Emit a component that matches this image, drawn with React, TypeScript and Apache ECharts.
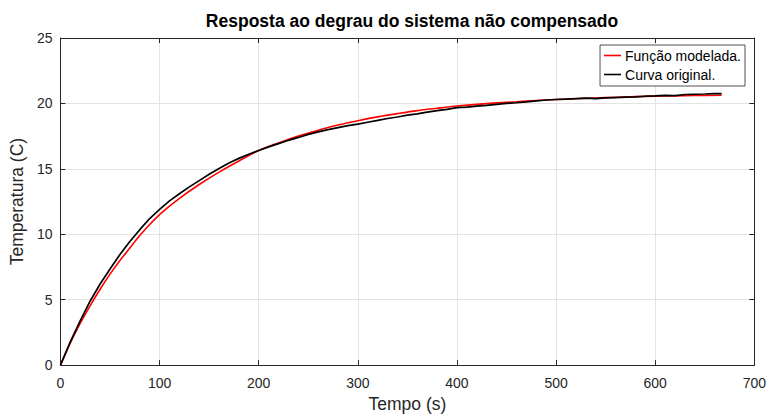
import React, { useEffect, useRef } from "react";
import * as echarts from "echarts";

const titleText = "Resposta ao degrau do sistema não compensado";
const xLabel = "Tempo (s)";
const yLabel = "Temperatura (C)";
const seriesNames = ["Função modelada.", "Curva original."];

const redTime = [0, 10, 20, 30, 40, 50, 60, 70, 80, 90, 100, 110, 120, 140, 160, 180, 200, 220, 240, 260, 280, 300, 320, 340, 360, 380, 400, 420, 440, 460, 480, 500, 520, 540, 560, 580, 600, 620, 640, 667];
const redValues = [0, 1.7, 3.2, 4.55, 5.8, 6.95, 8.0, 8.95, 9.9, 10.75, 11.5, 12.15, 12.75, 13.8, 14.75, 15.6, 16.4, 16.98, 17.5, 17.95, 18.35, 18.68, 18.97, 19.22, 19.45, 19.63, 19.8, 19.93, 20.04, 20.13, 20.22, 20.3, 20.36, 20.42, 20.47, 20.52, 20.56, 20.58, 20.6, 20.62];

const blackTime = [0, 10, 20, 30, 40, 50, 60, 70, 80, 90, 100, 110, 120, 130, 140, 150, 160, 170, 180, 190, 200, 210, 220, 230, 240, 250, 260, 270, 280, 290, 300, 310, 320, 330, 340, 350, 360, 370, 380, 390, 400, 410, 420, 430, 440, 450, 460, 470, 480, 490, 500, 510, 520, 530, 540, 550, 560, 570, 580, 590, 600, 610, 620, 630, 640, 650, 660, 667];
const blackValues = [0, 1.8, 3.4, 4.9, 6.2, 7.35, 8.45, 9.45, 10.35, 11.2, 11.9, 12.55, 13.1, 13.62, 14.1, 14.58, 15.02, 15.45, 15.8, 16.12, 16.4, 16.68, 16.93, 17.18, 17.4, 17.63, 17.83, 18.0, 18.15, 18.3, 18.42, 18.56, 18.7, 18.85, 18.96, 19.1, 19.2, 19.34, 19.45, 19.55, 19.68, 19.72, 19.8, 19.85, 19.92, 20.0, 20.05, 20.12, 20.2, 20.26, 20.3, 20.33, 20.37, 20.4, 20.36, 20.42, 20.45, 20.48, 20.5, 20.55, 20.58, 20.62, 20.6, 20.68, 20.7, 20.72, 20.75, 20.75];

const xTicks = [0, 100, 200, 300, 400, 500, 600, 700];
const yTicks = [0, 5, 10, 15, 20, 25];

const FONT = "Liberation Sans, Arial, Helvetica, sans-serif";
const TXT = "#262626";
const AX = "#262626";
const GRID = "#e3e3e3";

export default function App() {
  const ref = useRef<HTMLDivElement>(null);
  useEffect(() => {
    if (!ref.current) return;
    const chart = echarts.init(ref.current, undefined, { renderer: "svg" });
    const xMin = xTicks[0];
    const xMax = xTicks[xTicks.length - 1];
    const yMin = yTicks[0];
    const yMax = yTicks[yTicks.length - 1];
    const xInt = xTicks[1] - xTicks[0];
    const yInt = yTicks[1] - yTicks[0];
    const grid = { left: 59, right: 14, top: 38, bottom: 45, containLabel: false };
    const baseX = {
      type: "value",
      min: xMin,
      max: xMax,
      interval: xInt,
      axisLine: { show: true, onZero: false, lineStyle: { color: AX, width: 1 } },
      axisTick: { show: true, inside: true, length: 5, lineStyle: { color: AX } },
    };
    const baseY = {
      type: "value",
      min: yMin,
      max: yMax,
      interval: yInt,
      axisLine: { show: true, onZero: false, lineStyle: { color: AX, width: 1 } },
      axisTick: { show: true, inside: true, length: 5, lineStyle: { color: AX } },
    };
    chart.setOption({
      animation: false,
      backgroundColor: "#ffffff",
      title: {
        text: titleText,
        left: 407,
        textAlign: "center",
        top: 7,
        textStyle: { fontFamily: FONT, fontSize: 17.5, fontWeight: "bold", color: "#000" },
      },
      legend: {
        data: seriesNames,
        orient: "vertical",
        right: 24,
        top: 45,
        padding: [3, 4, 4, 4],
        itemGap: 4,
        itemWidth: 17,
        itemHeight: 1.6,
        icon: "rect",
        backgroundColor: "#fff",
        borderColor: "#262626",
        borderWidth: 0.8,
        borderRadius: 0,
        textStyle: { fontFamily: FONT, fontSize: 14, color: "#000", lineHeight: 15, padding: [0, 0, 0, -1] },
      },
      grid,
      xAxis: [
        {
          ...baseX,
          position: "bottom",
          name: xLabel,
          nameLocation: "middle",
          nameGap: 27,
          nameTextStyle: { fontFamily: FONT, fontSize: 17.5, color: TXT },
          axisLabel: { fontFamily: FONT, fontSize: 14, color: TXT, margin: 11 },
          splitLine: { show: true, lineStyle: { color: GRID, width: 1 } },
        },
        {
          ...baseX,
          position: "top",
          axisLabel: { show: false },
          splitLine: { show: false },
        },
      ],
      yAxis: [
        {
          ...baseY,
          position: "left",
          name: yLabel,
          nameLocation: "middle",
          nameGap: 30,
          nameTextStyle: { fontFamily: FONT, fontSize: 17.5, color: TXT },
          axisLabel: { fontFamily: FONT, fontSize: 14, color: TXT, margin: 8 },
          splitLine: { show: true, lineStyle: { color: GRID, width: 1 } },
        },
        {
          ...baseY,
          position: "right",
          axisLabel: { show: false },
          splitLine: { show: false },
        },
      ],
      series: [
        {
          name: seriesNames[0],
          type: "line",
          data: redTime.map((t, i) => [t, redValues[i]]),
          showSymbol: false,
          symbol: "none",
          smooth: 0.3,
          lineStyle: { color: "#ff0000", width: 1.6 },
          itemStyle: { color: "#ff0000" },
          z: 2,
        },
        {
          name: seriesNames[1],
          type: "line",
          data: blackTime.map((t, i) => [t, blackValues[i]]),
          showSymbol: false,
          symbol: "none",
          lineStyle: { color: "#000000", width: 1.7 },
          itemStyle: { color: "#000000" },
          z: 3,
        },
      ],
    });
    return () => chart.dispose();
  }, []);
  return (
    <div
      ref={ref}
      style={{ position: "fixed", left: 0, top: 0, width: 769, height: 418, background: "#fff" }}
    />
  );
}
